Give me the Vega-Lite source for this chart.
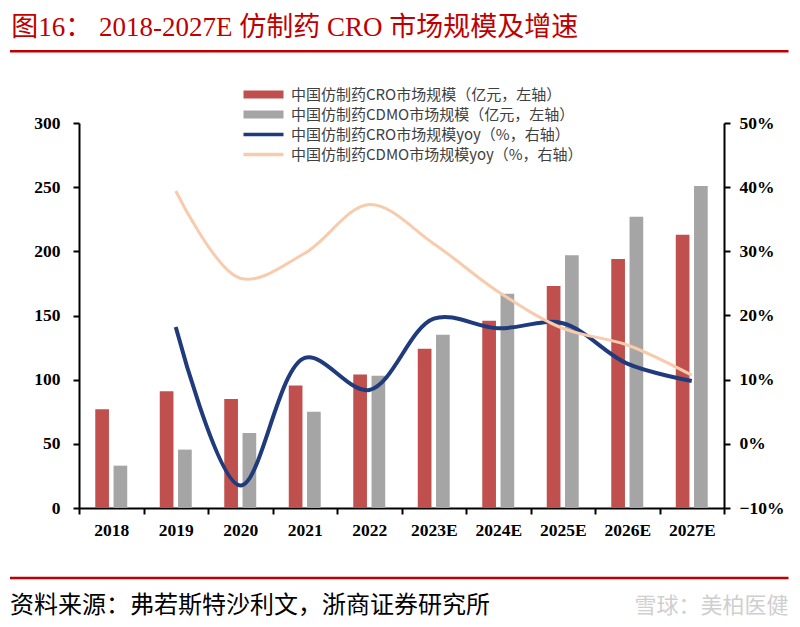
{
  "$schema": "https://vega.github.io/schema/vega-lite/v6.json",
  "width": 645,
  "height": 385,
  "autosize": {"type": "none"},
  "padding": {"left": 79, "top": 123, "right": 76, "bottom": 119},
  "background": "white",
  "config": {
    "view": {"stroke": null},
    "axis": {
      "labelFont": "Liberation Serif",
      "labelFontWeight": "bold",
      "labelFontSize": 17.5,
      "labelColor": "#000000",
      "domainColor": "#000000",
      "domainWidth": 2,
      "tickColor": "#000000",
      "tickWidth": 2,
      "tickSize": 6,
      "grid": false,
      "title": null
    }
  },
  "datasets": {
    "market": [
      {"year": "2018", "series": "中国仿制药CRO市场规模（亿元，左轴）", "value": 77},
      {"year": "2018", "series": "中国仿制药CDMO市场规模（亿元，左轴）", "value": 33},
      {"year": "2019", "series": "中国仿制药CRO市场规模（亿元，左轴）", "value": 91},
      {"year": "2019", "series": "中国仿制药CDMO市场规模（亿元，左轴）", "value": 45.5},
      {"year": "2020", "series": "中国仿制药CRO市场规模（亿元，左轴）", "value": 85},
      {"year": "2020", "series": "中国仿制药CDMO市场规模（亿元，左轴）", "value": 58.5},
      {"year": "2021", "series": "中国仿制药CRO市场规模（亿元，左轴）", "value": 95.5},
      {"year": "2021", "series": "中国仿制药CDMO市场规模（亿元，左轴）", "value": 75},
      {"year": "2022", "series": "中国仿制药CRO市场规模（亿元，左轴）", "value": 104},
      {"year": "2022", "series": "中国仿制药CDMO市场规模（亿元，左轴）", "value": 103},
      {"year": "2023E", "series": "中国仿制药CRO市场规模（亿元，左轴）", "value": 124},
      {"year": "2023E", "series": "中国仿制药CDMO市场规模（亿元，左轴）", "value": 135},
      {"year": "2024E", "series": "中国仿制药CRO市场规模（亿元，左轴）", "value": 146},
      {"year": "2024E", "series": "中国仿制药CDMO市场规模（亿元，左轴）", "value": 167},
      {"year": "2025E", "series": "中国仿制药CRO市场规模（亿元，左轴）", "value": 173},
      {"year": "2025E", "series": "中国仿制药CDMO市场规模（亿元，左轴）", "value": 197},
      {"year": "2026E", "series": "中国仿制药CRO市场规模（亿元，左轴）", "value": 194},
      {"year": "2026E", "series": "中国仿制药CDMO市场规模（亿元，左轴）", "value": 227},
      {"year": "2027E", "series": "中国仿制药CRO市场规模（亿元，左轴）", "value": 213},
      {"year": "2027E", "series": "中国仿制药CDMO市场规模（亿元，左轴）", "value": 251}
    ],
    "growth": [
      {"year": "2019", "series": "中国仿制药CRO市场规模yoy（%，右轴）", "yoy": 0.182},
      {"year": "2020", "series": "中国仿制药CRO市场规模yoy（%，右轴）", "yoy": -0.065},
      {"year": "2021", "series": "中国仿制药CRO市场规模yoy（%，右轴）", "yoy": 0.134},
      {"year": "2022", "series": "中国仿制药CRO市场规模yoy（%，右轴）", "yoy": 0.084},
      {"year": "2023E", "series": "中国仿制药CRO市场规模yoy（%，右轴）", "yoy": 0.195},
      {"year": "2024E", "series": "中国仿制药CRO市场规模yoy（%，右轴）", "yoy": 0.18},
      {"year": "2025E", "series": "中国仿制药CRO市场规模yoy（%，右轴）", "yoy": 0.188},
      {"year": "2026E", "series": "中国仿制药CRO市场规模yoy（%，右轴）", "yoy": 0.125},
      {"year": "2027E", "series": "中国仿制药CRO市场规模yoy（%，右轴）", "yoy": 0.098},
      {"year": "2019", "series": "中国仿制药CDMO市场规模yoy（%，右轴）", "yoy": 0.394},
      {"year": "2020", "series": "中国仿制药CDMO市场规模yoy（%，右轴）", "yoy": 0.258},
      {"year": "2021", "series": "中国仿制药CDMO市场规模yoy（%，右轴）", "yoy": 0.297},
      {"year": "2022", "series": "中国仿制药CDMO市场规模yoy（%，右轴）", "yoy": 0.373},
      {"year": "2023E", "series": "中国仿制药CDMO市场规模yoy（%，右轴）", "yoy": 0.312},
      {"year": "2024E", "series": "中国仿制药CDMO市场规模yoy（%，右轴）", "yoy": 0.237},
      {"year": "2025E", "series": "中国仿制药CDMO市场规模yoy（%，右轴）", "yoy": 0.18},
      {"year": "2026E", "series": "中国仿制药CDMO市场规模yoy（%，右轴）", "yoy": 0.154},
      {"year": "2027E", "series": "中国仿制药CDMO市场规模yoy（%，右轴）", "yoy": 0.107}
    ],
    "heading": [{"text": "图16：  2018-2027E 仿制药 CRO 市场规模及增速"}],
    "source": [{"text": "资料来源：弗若斯特沙利文，浙商证券研究所"}],
    "mark": [{"text": "雪球：美柏医健"}]
  },
  "layer": [
    {
      "data": {"name": "market"},
      "mark": {"type": "bar"},
      "encoding": {
        "x": {
          "field": "year", "type": "nominal", "sort": null,
          "scale": {"domain": ["2018", "2019", "2020", "2021", "2022", "2023E", "2024E", "2025E", "2026E", "2027E"], "paddingInner": 0, "paddingOuter": 0},
          "axis": {"labelAngle": 0, "tickBand": "extent", "labelPadding": 7}
        },
        "xOffset": {
          "field": "series", "type": "nominal", "sort": null,
          "scale": {"domain": ["中国仿制药CRO市场规模（亿元，左轴）", "中国仿制药CDMO市场规模（亿元，左轴）"], "paddingInner": 0.25, "paddingOuter": 0.89}
        },
        "y": {
          "field": "value", "type": "quantitative",
          "scale": {"domain": [0, 300], "nice": false},
          "axis": {"values": [0, 50, 100, 150, 200, 250, 300], "labelPadding": 13}
        },
        "fill": {
          "field": "series", "type": "nominal", "sort": null,
          "scale": {"domain": ["中国仿制药CRO市场规模（亿元，左轴）", "中国仿制药CDMO市场规模（亿元，左轴）"], "range": ["#c0504d", "#a5a5a5"]},
          "legend": {
            "title": null, "orient": "none", "legendX": 192, "legendY": -36, "padding": 0,
            "symbolType": "M-7,-0.8 H1 V0.8 H-7 Z", "symbolSize": 100, "symbolStrokeWidth": 0,
            "labelFont": "Noto Sans CJK SC", "labelFontSize": 15, "labelColor": "#404040",
            "labelOffset": 5, "rowPadding": 4, "labelLimit": 400
          }
        }
      }
    },
    {
      "data": {"name": "growth"},
      "mark": {"type": "line", "interpolate": "catmull-rom"},
      "encoding": {
        "x": {
          "field": "year", "type": "nominal", "sort": null,
          "scale": {"type": "point", "domain": ["2018", "2019", "2020", "2021", "2022", "2023E", "2024E", "2025E", "2026E", "2027E"], "padding": 0.5},
          "axis": null
        },
        "y": {
          "field": "yoy", "type": "quantitative",
          "scale": {"domain": [-0.1, 0.5], "nice": false, "zero": false},
          "axis": {"orient": "right", "format": ".0%", "values": [-0.1, 0, 0.1, 0.2, 0.3, 0.4, 0.5], "labelPadding": 9}
        },
        "stroke": {
          "field": "series", "type": "nominal", "sort": null,
          "scale": {"domain": ["中国仿制药CRO市场规模yoy（%，右轴）", "中国仿制药CDMO市场规模yoy（%，右轴）"], "range": ["#1f3b7c", "#f8cbad"]},
          "legend": {
            "title": null, "orient": "none", "legendX": 192, "legendY": 4, "padding": 0,
            "symbolType": "M-7,0 H1", "symbolSize": 100, "symbolStrokeWidth": 3.5,
            "labelFont": "Noto Sans CJK SC", "labelFontSize": 15, "labelColor": "#404040",
            "labelOffset": 5, "rowPadding": 4, "labelLimit": 400
          }
        },
        "strokeWidth": {
          "field": "series", "type": "ordinal", "sort": null,
          "scale": {"domain": ["中国仿制药CRO市场规模yoy（%，右轴）", "中国仿制药CDMO市场规模yoy（%，右轴）"], "range": [4, 3]},
          "legend": null
        }
      }
    },
    {
      "data": {"name": "heading"},
      "mark": {"type": "text", "align": "left", "baseline": "middle", "color": "#c00000", "font": "Liberation Serif, Noto Sans CJK SC", "fontSize": 27, "clip": false},
      "encoding": {
        "text": {"field": "text"},
        "x": {"datum": -0.105, "type": "quantitative", "scale": {"domain": [0, 1]}, "axis": null},
        "y": {"datum": 374, "type": "quantitative", "scale": {"domain": [0, 300], "nice": false}, "axis": null}
      }
    },
    {
      "data": {"values": [{}]},
      "mark": {"type": "rule", "color": "#c00000", "strokeWidth": 2.5, "clip": false},
      "encoding": {
        "x": {"datum": -0.107, "type": "quantitative", "scale": {"domain": [0, 1]}, "axis": null},
        "x2": {"datum": 1.1},
        "y": {"datum": 356, "type": "quantitative", "scale": {"domain": [0, 300], "nice": false}, "axis": null}
      }
    },
    {
      "data": {"values": [{}]},
      "mark": {"type": "rule", "color": "#c00000", "strokeWidth": 2.5, "clip": false},
      "encoding": {
        "x": {"datum": -0.107, "type": "quantitative", "scale": {"domain": [0, 1]}, "axis": null},
        "x2": {"datum": 1.1},
        "y": {"datum": -54.5, "type": "quantitative", "scale": {"domain": [0, 300], "nice": false}, "axis": null}
      }
    },
    {
      "data": {"name": "source"},
      "mark": {"type": "text", "align": "left", "baseline": "middle", "color": "#000000", "font": "Noto Sans CJK SC", "fontSize": 24, "clip": false},
      "encoding": {
        "text": {"field": "text"},
        "x": {"datum": -0.107, "type": "quantitative", "scale": {"domain": [0, 1]}, "axis": null},
        "y": {"datum": -76, "type": "quantitative", "scale": {"domain": [0, 300], "nice": false}, "axis": null}
      }
    },
    {
      "data": {"name": "mark"},
      "mark": {"type": "text", "align": "right", "baseline": "middle", "color": "#cfcfcf", "font": "Noto Sans CJK SC", "fontSize": 22, "clip": false},
      "encoding": {
        "text": {"field": "text"},
        "x": {"datum": 1.1, "type": "quantitative", "scale": {"domain": [0, 1]}, "axis": null},
        "y": {"datum": -76, "type": "quantitative", "scale": {"domain": [0, 300], "nice": false}, "axis": null}
      }
    }
  ],
  "resolve": {"scale": {"x": "independent", "y": "independent", "fill": "independent", "stroke": "independent"}}
}
